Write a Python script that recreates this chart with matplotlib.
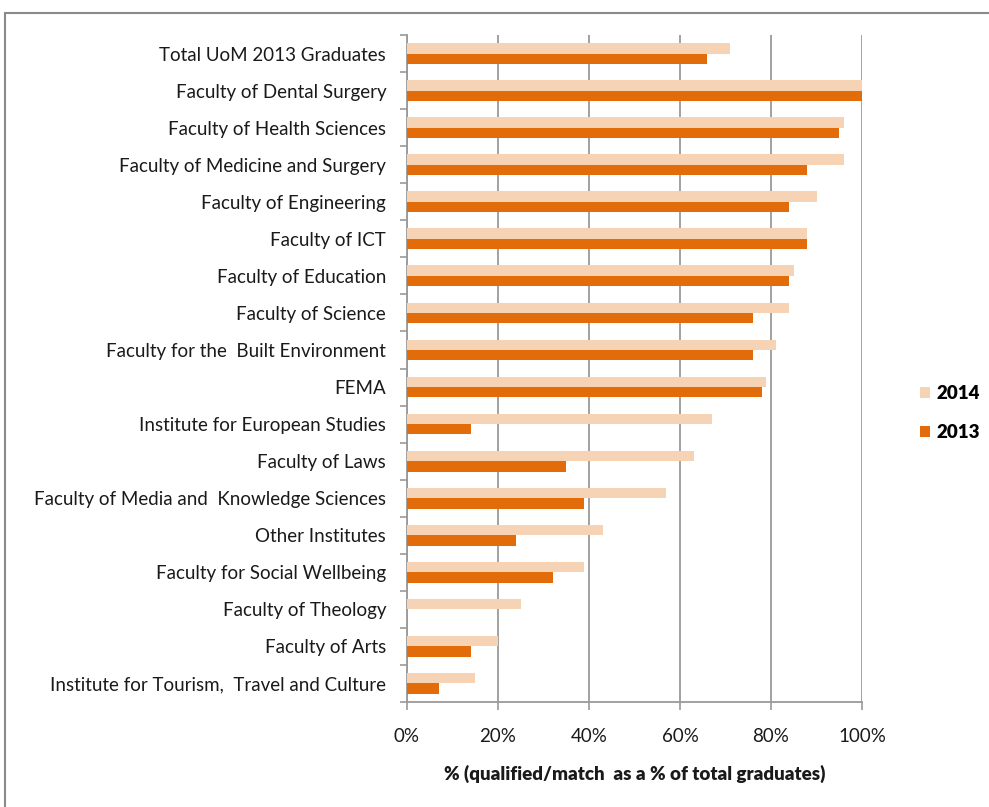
import matplotlib.pyplot as plt
import matplotlib.patches as patches
import numpy as np

categories = ['Total UoM 2013 Graduates', 'Faculty of Dental Surgery', 'Faculty of Health Sciences',
              'Faculty of Medicine and Surgery', 'Faculty of Engineering', 'Faculty of ICT',
              'Faculty of Education', 'Faculty of Science', 'Faculty for the  Built Environment',
              'FEMA', 'Institute for European Studies', 'Faculty of Laws',
              'Faculty of Media and  Knowledge Sciences', 'Other Institutes',
              'Faculty for Social Wellbeing', 'Faculty of Theology', 'Faculty of Arts',
              'Institute for Tourism,  Travel and Culture']
vals_2014 = [71, 100, 96, 96, 90, 88, 85, 84, 81, 79, 67, 63, 57, 43, 39, 25, 20, 15]
vals_2013 = [66, 100, 95, 88, 84, 88, 84, 76, 76, 78, 14, 35, 39, 24, 32, 0, 14, 7]
xticks = [0, 20, 40, 60, 80, 100]

c14 = '#F6D3B5'
c13 = '#E26B0A'
gray = '#9a9a9a'
txt = '#1a1a1a'

plt.rcParams['font.family'] = ['Lato', 'DejaVu Sans']

fig = plt.figure(figsize=(9.89, 8.07), dpi=100)
ax = fig.add_axes([407/989, 1-702/807, 455/989, 667/807])

n = len(categories)
y = np.arange(n)[::-1]
h = 0.28
ax.barh(y + h/2, vals_2014, height=h, color=c14, label='2014', zorder=3)
ax.barh(y - h/2, vals_2013, height=h, color=c13, label='2013', zorder=3)

ax.set_xlim(0, 100)
ax.set_ylim(-0.5, n - 0.5)
ax.set_xticks(xticks)
ax.set_xticklabels([f'{t}%' for t in xticks], fontsize=13.5, color=txt)
ax.set_yticks(y)
ax.set_yticklabels(categories, fontsize=13.5, color=txt)
ax.set_yticks(np.arange(n + 1) - 0.5, minor=True)
ax.tick_params(axis='y', which='major', length=0, pad=15)
ax.tick_params(axis='y', which='minor', length=5, color=gray, width=1.2)
ax.tick_params(axis='x', which='major', length=6, color=gray, width=1.2, pad=13)
ax.xaxis.grid(True, color=gray, linewidth=1.3, zorder=0)
ax.set_axisbelow(True)
for s in ['top', 'right']:
    ax.spines[s].set_visible(False)
for s in ['left', 'bottom']:
    ax.spines[s].set_color(gray)
    ax.spines[s].set_linewidth(1.3)

ax.set_xlabel('% (qualified/match  as a % of total graduates)', fontsize=13.5,
              fontweight='heavy', color=txt, labelpad=14)

ax.legend(loc='center left', bbox_to_anchor=(1.09, 0.433), frameon=False,
          prop={'weight': 'heavy', 'size': 13.5}, handlelength=0.55, handleheight=0.55,
          labelspacing=1.2, handletextpad=0.35)

border = patches.Rectangle((5/989, -0.1), 1.1, 1 - 13/807 + 0.1, transform=fig.transFigure,
                           fill=False, edgecolor='#8a8a8a', linewidth=1.5, clip_on=False)
fig.patches.append(border)

fig.savefig('out.png', dpi=100)
